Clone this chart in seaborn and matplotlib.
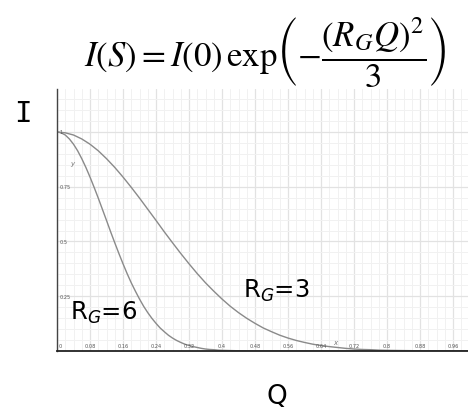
import matplotlib
matplotlib.use("Agg")
import matplotlib.pyplot as plt
import seaborn as sns
import pandas as pd
from matplotlib.ticker import MultipleLocator

# Guinier curves sampled along Q
q_r3 = [0.00, 0.02, 0.04, 0.06, 0.08, 0.10, 0.12, 0.14, 0.16, 0.18, 0.20, 0.22,
        0.24, 0.26, 0.28, 0.30, 0.32, 0.34, 0.36, 0.38, 0.40, 0.42, 0.44, 0.46,
        0.48, 0.50, 0.52, 0.54, 0.56, 0.58, 0.60, 0.62, 0.64, 0.66, 0.68, 0.70,
        0.72, 0.74, 0.76, 0.78, 0.80, 0.84, 0.88, 0.92, 0.96, 0.996]
i_r3 = [1.000, 0.996, 0.986, 0.968, 0.944, 0.914, 0.878, 0.838, 0.794, 0.747,
        0.698, 0.647, 0.596, 0.544, 0.494, 0.445, 0.398, 0.353, 0.311, 0.273,
        0.237, 0.204, 0.175, 0.149, 0.126, 0.105, 0.088, 0.072, 0.059, 0.048,
        0.039, 0.031, 0.025, 0.020, 0.016, 0.012, 0.009, 0.007, 0.006, 0.004,
        0.003, 0.002, 0.001, 0.0005, 0.000, 0.000]

q_r6 = [0.00, 0.01, 0.02, 0.03, 0.04, 0.05, 0.06, 0.07, 0.08, 0.09, 0.10, 0.11,
        0.12, 0.13, 0.14, 0.15, 0.16, 0.17, 0.18, 0.19, 0.20, 0.21, 0.22, 0.23,
        0.24, 0.25, 0.26, 0.27, 0.28, 0.29, 0.30, 0.31, 0.32, 0.33, 0.34, 0.35,
        0.36, 0.37, 0.38, 0.39, 0.40, 0.42, 0.44, 0.46, 0.48, 0.996]
i_r6 = [1.000, 0.996, 0.986, 0.968, 0.944, 0.914, 0.878, 0.838, 0.794, 0.747,
        0.698, 0.647, 0.596, 0.544, 0.494, 0.445, 0.398, 0.353, 0.311, 0.273,
        0.237, 0.204, 0.175, 0.149, 0.126, 0.105, 0.088, 0.072, 0.059, 0.048,
        0.039, 0.031, 0.025, 0.020, 0.016, 0.012, 0.009, 0.007, 0.006, 0.004,
        0.003, 0.002, 0.001, 0.0005, 0.000, 0.000]

x_ticks = [0.08, 0.16, 0.24, 0.32, 0.40, 0.48, 0.56, 0.64, 0.72, 0.80, 0.88, 0.96]
x_tick_labels = ["0.08", "0.16", "0.24", "0.32", "0.4", "0.48", "0.56", "0.64",
                 "0.72", "0.8", "0.88", "0.96"]
y_ticks = [0.25, 0.5, 0.75, 1.0]
y_tick_labels = ["0.25", "0.5", "0.75", "1"]

df = pd.concat([
    pd.DataFrame({"Q": q_r3, "I": i_r3, "curve": "R3"}),
    pd.DataFrame({"Q": q_r6, "I": i_r6, "curve": "R6"}),
])

sns.set_style("white")
W, H = 468, 414
fig = plt.figure(figsize=(W / 100, H / 100), dpi=100)
ax = fig.add_axes([57 / W, 1 - 352 / H, 1 - 57 / W, (352 - 90) / H])

sns.lineplot(data=df, x="Q", y="I", units="curve", estimator=None,
             color="#8a8a8a", linewidth=1.0, ax=ax, legend=False)

ax.set_xlim(0, 0.996)
ax.set_ylim(0, 1.196)
ax.xaxis.set_major_locator(MultipleLocator(0.08))
ax.xaxis.set_minor_locator(MultipleLocator(0.02))
ax.yaxis.set_major_locator(MultipleLocator(0.25))
ax.yaxis.set_minor_locator(MultipleLocator(0.05))
ax.grid(which="major", color="#e2e2e2", linewidth=0.9)
ax.grid(which="minor", color="#f1f1f1", linewidth=0.7)
ax.set_axisbelow(True)
ax.tick_params(which="both", length=0, labelbottom=False, labelleft=False)
ax.set_xlabel("")
ax.set_ylabel("")
for s in ("top", "right"):
    ax.spines[s].set_visible(False)
ax.spines["left"].set_color("#444444")
ax.spines["left"].set_linewidth(1.0)
ax.spines["bottom"].set_color("#222222")
ax.spines["bottom"].set_linewidth(1.3)

# in-plot tick labels
lab_kw = dict(fontsize=3.6, color="#555555")
ax.text(0.008, 0.015, "0", ha="center", va="bottom", **lab_kw)
for xv, t in zip(x_ticks, x_tick_labels):
    ax.text(xv, 0.015, t, ha="center", va="bottom", **lab_kw)
for yv, t in zip(y_ticks, y_tick_labels):
    ax.text(0.006, yv, t, ha="left", va="center", **lab_kw)
ax.text(0.038, 0.86, "y", fontsize=5, style="italic", color="#777777",
        ha="center", va="center")
ax.text(0.675, 0.04, "x", fontsize=5, style="italic", color="#777777",
        ha="center", va="center")

# equation title
fig.text(265 / W, 1 - 53 / H,
         r"$I(S) = I(0)\,\mathrm{exp}\left(-\dfrac{(R_G Q)^2}{3}\right)$",
         fontsize=25, math_fontfamily="stix", ha="center", va="center",
         color="black")

# curve labels and axis letters
fig.text(70 / W, 1 - 320 / H, r"R$_{\mathit{G}}$=6", fontsize=17.5,
         math_fontfamily="dejavusans", ha="left", va="baseline", color="black")
fig.text(243 / W, 1 - 298 / H, r"R$_{\mathit{G}}$=3", fontsize=17.5,
         math_fontfamily="dejavusans", ha="left", va="baseline", color="black")
fig.text(22.5 / W, 1 - 114.5 / H, "I", fontsize=21, family="DejaVu Sans Mono",
         ha="center", va="center", color="black")
fig.text(277 / W, 1 - 397 / H, "Q", fontsize=19, ha="center", va="center",
         color="black")

fig.savefig("out.png", dpi=100)
